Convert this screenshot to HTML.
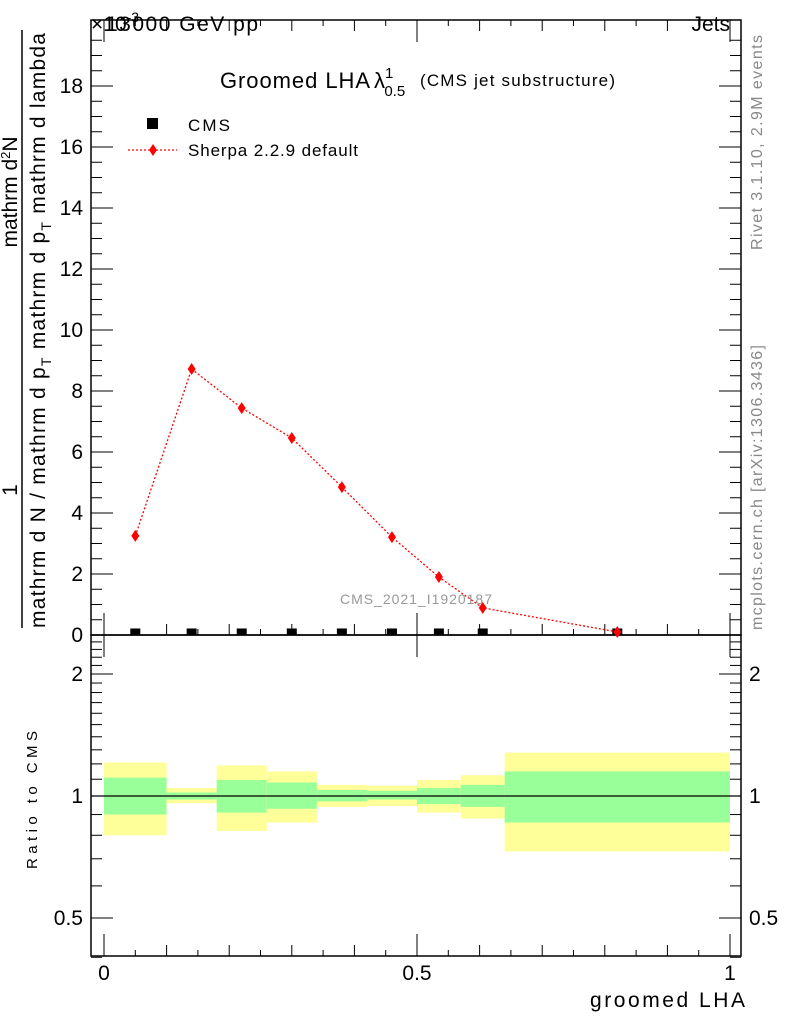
<!DOCTYPE html>
<html><head><meta charset="utf-8"><style>
body{margin:0;background:#fff}
svg{display:block;font-family:"Liberation Sans",sans-serif}
</style></head><body>
<svg id="c" width="786" height="1024" viewBox="0 0 786 1024" xmlns="http://www.w3.org/2000/svg">
<g id="ratioBands"></g>
<g id="axes"></g>
<g id="marks"></g>
<text x="91" y="31" font-size="21">×10<tspan font-size="14" dy="-9">-3</tspan></text>
<text x="106" y="31" font-size="21" textLength="152">13000 GeV pp</text>
<text x="730" y="31" font-size="21" text-anchor="end">Jets</text>
<text x="220" y="88" font-size="22" textLength="150">Groomed LHA</text>
<text x="374" y="88" font-size="22">λ<tspan font-size="15" dy="-10">1</tspan><tspan font-size="15" dy="18" dx="-9">0.5</tspan></text>
<text x="420" y="86" font-size="17" textLength="195">(CMS jet substructure)</text>
<rect x="147" y="118" width="11" height="11" fill="#000"/>
<text x="188" y="131" font-size="17" textLength="42">CMS</text>
<line x1="128" y1="150" x2="177" y2="150" stroke="red" stroke-dasharray="2,2" stroke-width="1.3"/>
<path d="M153 144 L157 150 L153 156 L149 150Z" fill="red"/>
<text x="188" y="156" font-size="17" textLength="170">Sherpa 2.2.9 default</text>
<text x="340" y="604" font-size="14" fill="#999" textLength="152">CMS_2021_I1920187</text>
<text transform="translate(762,250) rotate(-90)" font-size="16" fill="#888" textLength="215">Rivet 3.1.10,  2.9M events</text>
<text transform="translate(762,630) rotate(-90)" font-size="16" fill="#888" textLength="285">mcplots.cern.ch [arXiv:1306.3436]</text>
<g>
<line x1="22" y1="30" x2="22" y2="628" stroke="#000" stroke-width="1.5"/>
<text transform="translate(17,490) rotate(-90)" font-size="21" text-anchor="middle">1</text>
<text transform="translate(45,628) rotate(-90)" font-size="21" textLength="595">mathrm d N / mathrm d p<tspan font-size="14" dy="6">T</tspan><tspan dy="-6"> mathrm d p</tspan><tspan font-size="14" dy="6">T</tspan><tspan dy="-6"> mathrm d lambda</tspan></text>
<text transform="translate(17,192) rotate(-90)" font-size="21" text-anchor="middle">mathrm d<tspan font-size="13" dy="-7">2</tspan><tspan dy="7">N</tspan></text>
</g>
<text transform="translate(37,800) rotate(-90)" font-size="15" text-anchor="middle" textLength="138">Ratio to CMS</text>
<text x="590" y="1007" font-size="21" textLength="155">groomed LHA</text>
</svg>
<script>
const edges=[0,0.1,0.18,0.26,0.34,0.42,0.5,0.57,0.64,1.0];
const xCenters=[0.05,0.14,0.22,0.30,0.38,0.46,0.535,0.605,0.82];
const sherpa=[3.25,8.72,7.44,6.46,4.85,3.21,1.90,0.89,0.1];
const cms=[0.05,0.05,0.05,0.05,0.05,0.05,0.05,0.05,0.05];
const yellowHi=[1.21,1.046,1.19,1.15,1.065,1.06,1.095,1.125,1.28];
const greenHi=[1.11,1.02,1.095,1.08,1.035,1.03,1.046,1.065,1.15];
const greenLo=[0.90,0.98,0.91,0.93,0.97,0.98,0.955,0.94,0.86];
const yellowLo=[0.80,0.96,0.82,0.86,0.94,0.945,0.91,0.88,0.73];
const yTicks=[0,2,4,6,8,10,12,14,16,18];
const xTicks=[0,0.5,1];
const xTickLabels=["0","0.5","1"];
const rTicks=[0.5,1,2];
const rTickLabels=["0.5","1","2"];

const NS="http://www.w3.org/2000/svg";
const L=91,R=741,T=20,MB=635,RB=956;
const X=v=>104+v*626;
const Y=v=>635-v*30.5;
const RY=v=>796-Math.log2(v)*122;
function mk(p,tag,a){const e=document.createElementNS(NS,tag);for(const k in a)e.setAttribute(k,a[k]);p.appendChild(e);return e;}
const bands=document.getElementById('ratioBands'),axes=document.getElementById('axes'),marks=document.getElementById('marks');
for(let i=0;i<edges.length-1;i++){
  const x1=X(edges[i]),x2=X(edges[i+1]);
  const y=mk(bands,'rect',{x:x1,y:RY(yellowHi[i]),width:x2-x1,height:RY(yellowLo[i])-RY(yellowHi[i]),fill:'#ffff99'});
  
  
  const g=mk(bands,'rect',{x:x1,y:RY(greenHi[i]),width:x2-x1,height:RY(greenLo[i])-RY(greenHi[i]),fill:'#99ff99'});
  
  
}
mk(axes,'line',{x1:L,y1:RY(1),x2:R,y2:RY(1),stroke:'#000','stroke-width':1.3});
mk(axes,'rect',{x:L,y:T,width:R-L,height:MB-T,fill:'none',stroke:'#000','stroke-width':1.5});
mk(axes,'rect',{x:L,y:MB,width:R-L,height:RB-MB,fill:'none',stroke:'#000','stroke-width':1.5});
for(let v=0;v<=19.5;v+=0.5){const maj=v%2===0;const len=maj?22:11;
 mk(axes,'line',{x1:L,y1:Y(v),x2:L+len,y2:Y(v),stroke:'#000'});
 mk(axes,'line',{x1:R,y1:Y(v),x2:R-len,y2:Y(v),stroke:'#000'});}
yTicks.forEach(v=>{const t=mk(axes,'text',{x:L-8,y:Y(v)+7,'font-size':21,'text-anchor':'end'});t.textContent=v;
 
 });
for(let i=0;i<=20;i++){const v=i*0.05;const maj=i%10===0;const med=i%2===0;const len=maj?22:(med?11:6);
 [[MB,-1],[T,1],[RB,-1]].forEach(([b,d])=>mk(axes,'line',{x1:X(v),y1:b,x2:X(v),y2:b+d*len,stroke:'#000'}));
 if(maj) mk(axes,'line',{x1:X(v),y1:MB,x2:X(v),y2:MB+22,stroke:'#000'});}
xTicks.forEach((v,i)=>{const t=mk(axes,'text',{x:X(v),y:980,'font-size':21,'text-anchor':'middle'});t.textContent=xTickLabels[i];
 
 });
const rm=[0.4,0.5,0.6,0.7,0.8,0.9,1,1.1,1.2,1.3,1.4,1.5,1.6,1.7,1.8,1.9,2,2.1,2.2,2.3,2.4];
rm.forEach(v=>{const maj=rTicks.includes(v);const len=maj?22:11;
 mk(axes,'line',{x1:L,y1:RY(v),x2:L+len,y2:RY(v),stroke:'#000'});
 mk(axes,'line',{x1:R,y1:RY(v),x2:R-len,y2:RY(v),stroke:'#000'});});
rTicks.forEach((v,i)=>{const a=mk(axes,'text',{x:L-8,y:RY(v)+7,'font-size':21,'text-anchor':'end'});a.textContent=rTickLabels[i];
 
 
 const b=mk(axes,'text',{x:R+8,y:RY(v)+7,'font-size':21});b.textContent=rTickLabels[i];
 
 });
cms.forEach((v,i)=>{const r=mk(marks,'rect',{x:X(xCenters[i])-5,y:Y(v)-5,width:10,height:7,fill:'#000'});
 
 });
const pl=mk(marks,'polyline',{points:sherpa.map((v,i)=>X(xCenters[i])+','+Y(v)).join(' '),fill:'none',stroke:'red','stroke-width':1.3,'stroke-dasharray':'2,2'});


sherpa.forEach((v,i)=>{const x=X(xCenters[i]),y=Y(v);
 const p=mk(marks,'path',{d:`M${x} ${y-6}L${x+4} ${y}L${x} ${y+6}L${x-4} ${y}Z`,fill:'red'});
 
 });
</script>
</body></html>
